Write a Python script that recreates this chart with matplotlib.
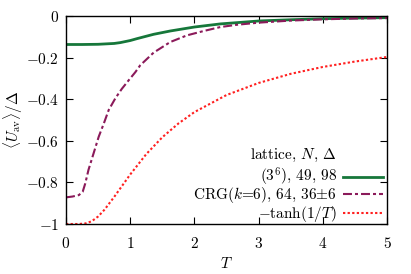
import matplotlib
matplotlib.use("Agg")
import matplotlib.pyplot as plt
from matplotlib.lines import Line2D
import numpy as np

plt.rcParams['mathtext.fontset'] = 'cm'
plt.rcParams['font.family'] = 'serif'
plt.rcParams['font.serif'] = ['cmr10', 'DejaVu Serif']
plt.rcParams['axes.formatter.use_mathtext'] = True
plt.rcParams['font.size'] = 10

# lattice (3^6), 49, 98
T_lat = [0.0, 0.25, 0.5, 0.75, 0.844, 1.0, 1.104, 1.365, 1.625, 2.0, 2.406, 3.0, 3.5, 4.0, 4.5, 5.0]
U_lat = [-0.137, -0.137, -0.136, -0.132, -0.128, -0.118, -0.109, -0.088, -0.072, -0.053, -0.038, -0.024, -0.018, -0.013, -0.010, -0.008]

# CRG(k=6), 64, 36±6
T_crg = [0.0, 0.1, 0.2, 0.26, 0.30, 0.35, 0.43, 0.51, 0.59, 0.665, 0.77, 0.87, 1.0, 1.08, 1.156, 1.365, 1.625, 1.885, 2.146, 2.406, 2.667, 3.0, 3.5, 4.0, 4.5, 5.0]
U_crg = [-0.872, -0.868, -0.861, -0.845, -0.805, -0.74, -0.66, -0.58, -0.516, -0.452, -0.395, -0.35, -0.30, -0.27, -0.237, -0.176, -0.125, -0.093, -0.072, -0.053, -0.042, -0.032, -0.022, -0.016, -0.012, -0.010]

# -tanh(1/T)
T_th = [0.0, 0.1, 0.2, 0.3, 0.4, 0.5, 0.6, 0.75, 1.0, 1.25, 1.5, 1.75, 2.0, 2.5, 3.0, 3.5, 4.0, 4.5, 5.0]
U_th = [-1.0, -1.0, -1.0, -0.9975, -0.987, -0.964, -0.931, -0.870, -0.762, -0.664, -0.583, -0.517, -0.462, -0.380, -0.322, -0.278, -0.245, -0.219, -0.197]

legend_title = r"lattice, $N$, $\Delta$"
labels = [r"(3$^{6}$), 49, 98", r"CRG($k$=6), 64, 36$\pm$6", r"$-$tanh(1/$T$)"]
xticks = [0, 1, 2, 3, 4, 5]
yticks = [0, -0.2, -0.4, -0.6, -0.8, -1]
ytick_labels = [r"$0$", r"$-0.2$", r"$-0.4$", r"$-0.6$", r"$-0.8$", r"$-1$"]

fig = plt.figure(figsize=(4.11, 2.74), dpi=100)
ax = fig.add_axes([66/411, 1-224/274, (387-66)/411, (224-16)/274])

l1, = ax.plot(T_lat, U_lat, color='#16773a', lw=2.0)
l2, = ax.plot(T_crg, U_crg, color='#8b1a5a', lw=1.5, dashes=(4.3, 1.45, 1.45, 1.45))
l3, = ax.plot(T_th, U_th, color='#ff2020', lw=1.5, dashes=(1.1, 1.1))

ax.set_xlim(0, 5)
ax.set_ylim(-1, 0)
ax.set_xticks(xticks)
ax.set_xticklabels([f"${v}$" for v in xticks], fontsize=11)
ax.set_yticks(yticks)
ax.set_yticklabels(ytick_labels, fontsize=11)
ax.tick_params(direction='in', top=True, right=True, length=4.7, width=0.8)
ax.tick_params(axis='x', pad=8.5)
ax.tick_params(axis='y', pad=5)
for s in ax.spines.values():
    s.set_linewidth(1.0)

ax.set_xlabel(r"$T$", labelpad=4, fontsize=11)
ax.set_ylabel(r"$\langle U_{\rm av}\rangle/\Delta$", labelpad=1, fontsize=11)

blank = Line2D([], [], color='none')
leg_kw = dict(frameon=False, markerfirst=False, handlelength=2.6, handletextpad=0.45,
              borderaxespad=0.0, borderpad=0.25, fontsize=11, loc='lower right')
legA = ax.legend([blank, l1], [legend_title, labels[0]], labelspacing=0.12,
                 bbox_to_anchor=(1.0, 0.154), **leg_kw)
ax.add_artist(legA)
ax.legend([l2, l3], labels[1:], labelspacing=-0.08,
          bbox_to_anchor=(1.0, -0.019), **leg_kw)

fig.savefig("out.png", dpi=100)
